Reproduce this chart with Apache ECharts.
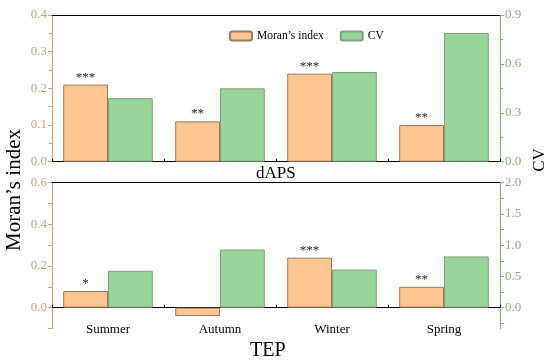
<!DOCTYPE html>
<html><head><meta charset="utf-8">
<script src="https://cdn.jsdelivr.net/npm/echarts@6/dist/echarts.min.js"></script>
<style>html,body{margin:0;padding:0;background:#fff}#c{width:550px;height:361px}</style>
</head><body><div id="c"></div>
<script>
var categories = ['Summer', 'Autumn', 'Winter', 'Spring'];
var moranTop = [0.21, 0.11, 0.24, 0.10];
var cvTop = [0.39, 0.45, 0.55, 0.79];
var sigTop = ['***', '**', '***', '**'];
var moranBottom = [0.08, -0.04, 0.24, 0.10];
var cvBottom = [0.59, 0.93, 0.61, 0.82];
var sigBottom = ['*', '', '***', '**'];
var leftTopTicks = [0, 0.1, 0.2, 0.3, 0.4];
var rightTopTicks = [0, 0.3, 0.6, 0.9];
var leftBottomTicks = [0, 0.2, 0.4, 0.6];
var leftBottomMinor = [-0.1, 0, 0.1, 0.2, 0.3, 0.4, 0.5, 0.6];
var rightBottomTicks = [0, 0.5, 1.0, 1.5, 2.0];
var rightBottomMinor = [-0.25, 0, 0.25, 0.5, 0.75, 1.0, 1.25, 1.5, 1.75, 2.0];

var FONT = '"Liberation Serif", "Times New Roman", serif';
var ORANGE = '#FCC591', GREEN = '#99D49B';
var LEFTC = '#C6A47F', RIGHTC = '#86B27A';

var chart = echarts.init(document.getElementById('c'));
function catAxis(gi, showLabel) {
  return {
    type: 'category', gridIndex: gi, data: categories,
    axisLine: {onZero: true, lineStyle: {color: '#000', width: 1.2}},
    axisTick: {alignWithLabel: true, length: 5, lineStyle: {color: '#000'}},
    axisLabel: {show: showLabel, fontFamily: FONT, fontSize: 13, color: '#000', margin: -5}
  };
}
function bndAxis(gi) {
  return {
    type: 'category', gridIndex: gi, data: categories,
    axisLine: {show: false}, axisTick: {show: true, length: 3, lineStyle: {color: '#000'}},
    axisLabel: {show: false}
  };
}
function topLine(gi) {
  return {type: 'category', gridIndex: gi, position: 'top', data: categories,
    axisLine: {onZero: false, lineStyle: {color: '#000', width: 1.2}}, axisTick: {show: false}, axisLabel: {show: false}};
}
function fmt(v) { return v.toFixed(1); }
function valAxis(gi, pos, min, max, interval, color) {
  return {
    type: 'value', gridIndex: gi, position: pos, min: min, max: max, interval: interval,
    splitLine: {show: false},
    axisLine: {show: true, onZero: false, lineStyle: {color: color, width: 1.2}},
    axisTick: {show: true, length: 4, lineStyle: {color: color}},
    minorTick: {show: true, splitNumber: 2, length: 3, lineStyle: {color: color}},
    axisLabel: {fontFamily: FONT, fontSize: 13, color: color, margin: 5, formatter: fmt}
  };
}
function customAxis(gi, pos, min, max, labels, ticks, color) {
  return {
    type: 'value', gridIndex: gi, position: pos, min: min, max: max,
    splitLine: {show: false},
    axisLine: {show: true, onZero: false, lineStyle: {color: color, width: 1.2}},
    axisTick: {show: true, length: 4, customValues: ticks, lineStyle: {color: color}},
    axisLabel: {fontFamily: FONT, fontSize: 13, color: color, margin: 5, customValues: labels, formatter: fmt}
  };
}
function sigLabel(arr) {
  return {show: true, position: 'top', distance: 1, fontFamily: FONT, fontSize: 13, color: '#222',
    formatter: function (p) { return arr[p.dataIndex]; }};
}
var option = {
  animation: false,
  grid: [
    {left: 52, right: 50, top: 15, height: 146.7},
    {left: 52, right: 50, top: 182.7, height: 145.8}
  ],
  legend: {
    left: 224, top: 25, itemWidth: 22, itemHeight: 9, itemGap: 16,
    textStyle: {fontFamily: FONT, fontSize: 11.5, color: '#000'},
    data: ['Moran’s index', 'CV']
  },
  xAxis: [catAxis(0, false), catAxis(1, true), bndAxis(0), bndAxis(1), topLine(0), topLine(1)],
  yAxis: [
    valAxis(0, 'left', 0, 0.4, 0.1, LEFTC),
    valAxis(0, 'right', 0, 0.9, 0.3, RIGHTC),
    customAxis(1, 'left', -0.1, 0.6, leftBottomTicks, leftBottomMinor, LEFTC),
    customAxis(1, 'right', -1/3, 2.0, rightBottomTicks, rightBottomMinor, RIGHTC)
  ],
  series: [
    {name: 'Moran’s index', type: 'bar', xAxisIndex: 0, yAxisIndex: 0, data: moranTop,
      barGap: '0%', barCategoryGap: '20%',
      itemStyle: {color: ORANGE, borderColor: '#9C7B5E', borderWidth: 1}, label: sigLabel(sigTop)},
    {name: 'CV', type: 'bar', xAxisIndex: 0, yAxisIndex: 1, data: cvTop,
      barGap: '0%', barCategoryGap: '20%',
      itemStyle: {color: GREEN, borderColor: '#7FA07F', borderWidth: 1}},
    {name: 'Moran’s index', type: 'bar', xAxisIndex: 1, yAxisIndex: 2, data: moranBottom,
      barGap: '0%', barCategoryGap: '20%',
      itemStyle: {color: ORANGE, borderColor: '#9C7B5E', borderWidth: 1}, label: sigLabel(sigBottom)},
    {name: 'CV', type: 'bar', xAxisIndex: 1, yAxisIndex: 3, data: cvBottom,
      barGap: '0%', barCategoryGap: '20%',
      itemStyle: {color: GREEN, borderColor: '#7FA07F', borderWidth: 1}}
  ],
  graphic: [
    {type: 'text', left: 256, top: 165, style: {text: 'dAPS', font: '17px ' + FONT, fill: '#000'}},
    {type: 'text', left: 250, top: 341, style: {text: 'TEP', font: '20px ' + FONT, fill: '#000'}},
    {type: 'text', x: 14, y: 190, rotation: Math.PI / 2,
      style: {text: 'Moran’s index', font: '21px ' + FONT, fill: '#000', align: 'center', verticalAlign: 'middle'}},
    {type: 'text', x: 540, y: 160, rotation: Math.PI / 2,
      style: {text: 'CV', font: '17px ' + FONT, fill: '#000', align: 'center', verticalAlign: 'middle'}}
  ]
};
chart.setOption(option);
</script></body></html>
